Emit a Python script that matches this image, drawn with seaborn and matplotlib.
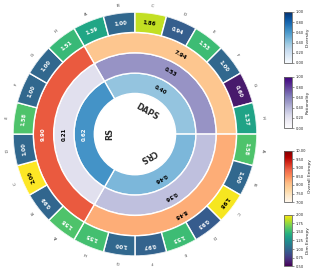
import numpy as np
import matplotlib
matplotlib.use("Agg")
import matplotlib.pyplot as plt
import matplotlib.colors as mcolors
import matplotlib.cm as cm
import seaborn as sns

# data
methods = ["DAPS", "CRS", "RS"]
diversity = [0.40, 0.46, 0.62]
rationality = [0.53, 0.36, 0.21]
overall_entropy = [7.94, 8.48, 9.90]
dims = ["A", "B", "C", "D", "E", "F", "G", "H"]
dim_entropy_daps = [1.39, 1.00, 1.86, 0.94, 1.53, 1.00, 0.60, 1.37]
dim_entropy_crs = [1.58, 1.00, 1.98, 0.93, 1.53, 0.97, 1.00, 1.55]
dim_entropy_rs = [1.58, 0.99, 2.00, 1.00, 1.58, 1.00, 1.00, 1.51]

sns.set_theme(style="white")
plt.rcParams['font.family'] = ['DejaVu Sans']

cmap_div = sns.color_palette("Blues", as_cmap=True)
cmap_rat = sns.color_palette("Purples", as_cmap=True)
cmap_ent = sns.color_palette("OrRd", as_cmap=True)
cmap_dim = sns.color_palette("viridis", as_cmap=True)

norm_div = mcolors.Normalize(0, 1)
norm_rat = mcolors.Normalize(0, 1)
norm_ent_bar = mcolors.Normalize(6, 12)
norm_ent = mcolors.Normalize(7, 10)
norm_dim = mcolors.Normalize(0.5, 2.0)

fig = plt.figure(figsize=(3.18, 2.69), dpi=100)
ax = fig.add_axes([0.0409, 0.048, 0.767, 0.907], projection="polar")
ax.set_theta_offset(np.deg2rad(120))
ax.set_theta_direction(-1)
ax.set_ylim(0, 6)
ax.set_axis_off()

sector = 2 * np.pi / len(methods)
step = sector / len(dims)


def rot(theta):
    return 120 - np.rad2deg(theta) - 90


# inner rings: one sector per method
rings = [(diversity, cmap_div, norm_div, 2),
         (rationality, cmap_rat, norm_rat, 3),
         (overall_entropy, cmap_ent, norm_ent_bar, 4)]
for vals, cmap, norm, base in rings:
    for i, v in enumerate(vals):
        th = sector * i + sector / 2
        ax.bar(th, 1, width=sector, bottom=base, color=cmap(norm(v)),
               edgecolor="white", linewidth=1)
        tc = "white" if norm(v) > 0.6 else "black"
        ax.text(th, base + 0.5, f"{v:.2f}", rotation=rot(th), rotation_mode="anchor",
                ha="center", va="center", fontsize=4, fontweight="bold", color=tc)

# method names in the hole
for i, m in enumerate(methods):
    th = sector * i + sector / 2
    ax.text(th, 1.25, m, rotation=rot(th), rotation_mode="anchor",
            ha="center", va="center", fontsize=5.8, fontweight="bold", color="#2a2a2a")

# outer ring: dimension entropy
for i, vals in enumerate([dim_entropy_daps, dim_entropy_crs, dim_entropy_rs]):
    for j, v in enumerate(vals):
        th = sector * i + step * j + step / 2
        ax.bar(th, 1, width=step, bottom=5, color=cmap_dim(norm_dim(v)),
               edgecolor="white", linewidth=1)
        tc = "white" if norm_dim(v) < 0.8 else "black"
        ax.text(th, 5.5, f"{v:.2f}", rotation=rot(th), rotation_mode="anchor",
                ha="center", va="center", fontsize=3.8, fontweight="bold", color=tc)
        ax.text(th, 6.35, dims[j], rotation=rot(th), rotation_mode="anchor",
                ha="center", va="center", fontsize=3, color="#333333")

# colorbars
cbars = [(cmap_div, norm_div, np.linspace(0, 1, 6), "Diversity", 0.766),
         (cmap_rat, norm_rat, np.linspace(0, 1, 6), "Rationality", 0.524),
         (cmap_ent, norm_ent, np.linspace(7, 10, 7), "Overall Entropy", 0.249),
         (cmap_dim, norm_dim, np.linspace(0.5, 2.0, 7), "Dim Entropy", 0.011)]
for cmap, norm, ticks, label, y0 in cbars:
    cax = fig.add_axes([0.893, y0, 0.025, 0.19])
    cb = fig.colorbar(cm.ScalarMappable(norm=norm, cmap=cmap), cax=cax, ticks=ticks)
    cb.ax.set_yticklabels([f"{t:.2f}" for t in ticks])
    cb.ax.yaxis.set_ticks_position("right")
    cb.ax.tick_params(axis="y", right=True, labelsize=2.6, length=1.5, width=0.4,
                      pad=1, color="#444444")
    cb.outline.set_edgecolor("#666666")
    cb.outline.set_linewidth(0.6)
    cb.set_label(label, fontsize=3.2, labelpad=1.5)

fig.savefig("out.png", dpi=100)
